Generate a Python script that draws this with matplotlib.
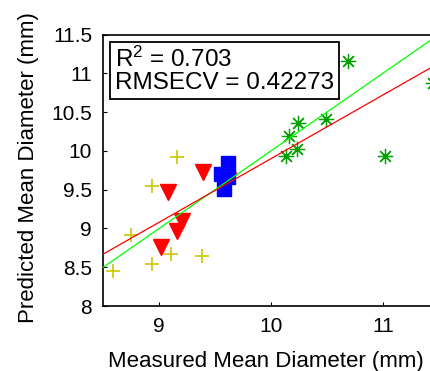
import numpy as np
import matplotlib
matplotlib.use("Agg")
import matplotlib.pyplot as plt

plt.rcParams['font.family'] = ['Liberation Sans', 'DejaVu Sans']

# measured vs predicted mean diameter (mm), one group per marker
plus_x = [8.59, 8.75, 8.94, 8.94, 9.11, 9.16, 9.38]
plus_y = [8.45, 8.92, 9.55, 8.54, 8.67, 9.92, 8.64]

tri_x = [9.39, 9.08, 9.20, 9.16, 9.02, 9.62]
tri_y = [9.73, 9.47, 9.09, 8.97, 8.76, 9.62]

sq_x = [9.62, 9.55, 9.58, 9.62]
sq_y = [9.84, 9.70, 9.51, 9.66]

star_x = [10.69, 11.45, 10.49, 10.24, 10.16, 10.23, 10.13, 11.02]
star_y = [11.16, 10.87, 10.41, 10.36, 10.19, 10.03, 9.94, 9.94]

# regression fit and 1:1 line
fit_slope = 0.82
fit_intercept = 1.70
r2 = 0.703
rmsecv = 0.42273

xticks = [9, 10, 11]
yticks = [8, 8.5, 9, 9.5, 10, 10.5, 11, 11.5]
ytick_labels = ['8', '8.5', '9', '9.5', '10', '10.5', '11', '11.5']

fig = plt.figure(figsize=(4.3, 3.71), dpi=100)
ax = fig.add_axes([0.240, 0.175, 0.7805, 0.732])

ax.plot(plus_x, plus_y, ls='none', marker='+', ms=10, mew=1.2, color='#c8c800')
ax.plot(tri_x, tri_y, ls='none', marker='v', ms=12, color='red')
ax.plot(sq_x, sq_y, ls='none', marker='s', ms=10, color='blue')
ax.plot(star_x, star_y, ls='none', marker=(8, 2, 0), ms=11, mew=0.9, color='#00a000')

xl = np.array([8.5, 11.5])
ax.plot(xl, xl, color='#00ff00', lw=0.9, zorder=5)
ax.plot(xl, fit_slope * xl + fit_intercept, color='red', lw=0.9, zorder=5)

ax.set_xlim(8.5, 11.5)
ax.set_ylim(8, 11.5)
ax.set_xticks(xticks)
ax.set_yticks(yticks)
ax.set_yticklabels(ytick_labels)
ax.tick_params(direction='in', length=3, labelsize=15, pad=8)
for s in ax.spines.values():
    s.set_linewidth(1.2)

ax.text(0.035, 0.955, '$\\mathregular{R^2}$ = 0.%03d\nRMSECV = %.5f' % (round(r2 * 1000), rmsecv),
        transform=ax.transAxes, fontsize=17.5, va='top', ha='left', linespacing=1.0,
        bbox=dict(boxstyle='square,pad=0.2', fc='white', ec='black', lw=1.3), zorder=6)

ax.set_xlabel('Measured Mean Diameter (mm)', fontsize=16)
ax.set_ylabel('Predicted Mean Diameter (mm)', fontsize=16)
ax.xaxis.set_label_coords(0.485, -0.165)
ax.yaxis.set_label_coords(-0.222, 0.51)
ax.yaxis.label.set_va('center')

fig.savefig('out.png', dpi=100)
